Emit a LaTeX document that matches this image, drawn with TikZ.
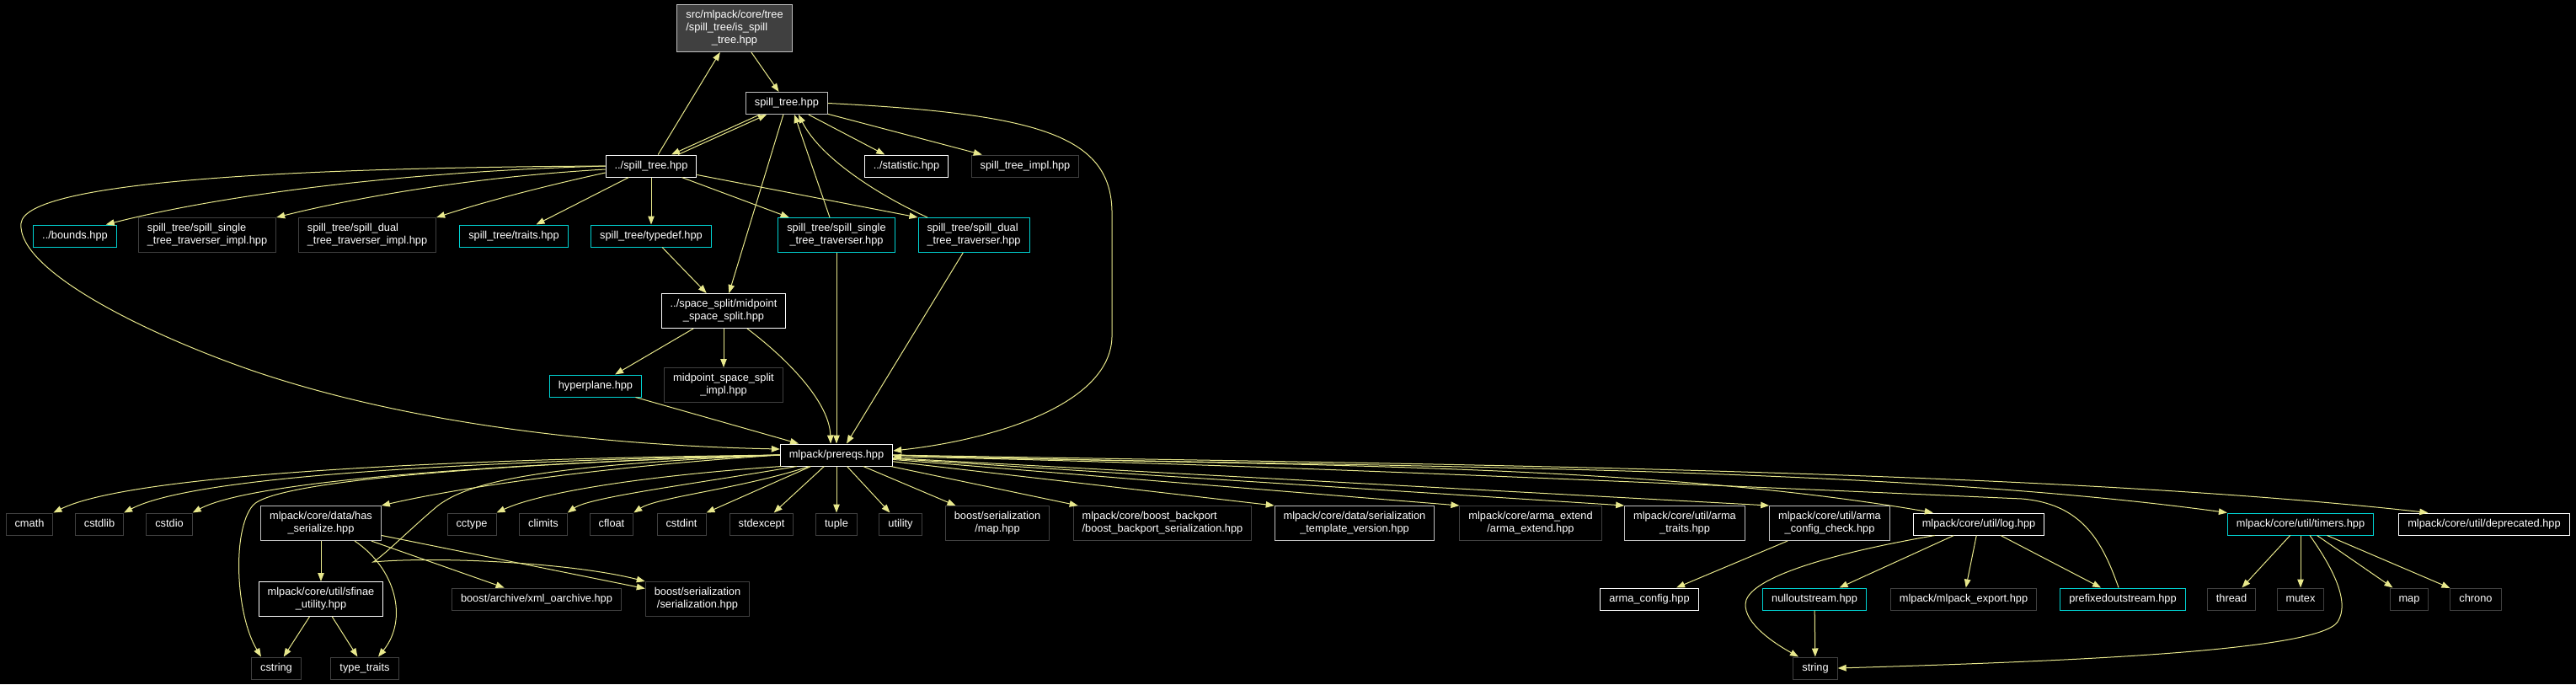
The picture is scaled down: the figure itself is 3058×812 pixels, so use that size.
\documentclass[tikz,border=0pt]{standalone}
\usepackage{fontspec}
\setmainfont{Liberation Sans}
\usetikzlibrary{arrows.meta}

\definecolor{edgeyellow}{RGB}{232,232,140}
\definecolor{extgray}{RGB}{64,64,64}
\definecolor{docgray}{RGB}{191,191,191}
\definecolor{linkcyan}{RGB}{0,210,210}
\definecolor{rootfill}{RGB}{64,64,64}

% all lines but the last left, last line centred
\newcommand{\hdrlines}[2]{\begin{tabular}{@{}l@{}}#1\\\multicolumn{1}{@{}c@{}}{#2}\end{tabular}}

\begin{document}
\begin{tikzpicture}[
      x=1pt, y=1pt,
      hdr/.style={rectangle, draw, line width=1pt, fill=black, text=white, inner xsep=10.5pt, inner ysep=5.5pt, minimum height=26pt, font=\fontsize{12.8}{15}\selectfont, execute at begin node=\strut},
      dochdr/.style={hdr, draw=white},
      grayhdr/.style={hdr, draw=docgray},
      exthdr/.style={hdr, draw=extgray},
      linkhdr/.style={hdr, draw=linkcyan},
      roothdr/.style={hdr, draw=docgray, fill=rootfill},
      incl/.style={-{Triangle[length=10pt, width=7.5pt]}, line width=1pt, edgeyellow}
    ]

    \fill[black] (0,0) rectangle (3058,-812);

    % upper part
    \node[roothdr] (istree)     at (872,-33.5) {\hdrlines{src/mlpack/core/tree\\/spill\_tree/is\_spill}{\_tree.hpp}};
    \node[grayhdr] (spilltree)  at (934,-122.5) {spill\_tree.hpp};
    \node[dochdr]  (lspill)     at (773,-197) {../spill\_tree.hpp};
    \node[dochdr]  (statistic)  at (1076,-197) {../statistic.hpp};
    \node[exthdr]  (implhpp)    at (1217,-197) {spill\_tree\_impl.hpp};

    \node[linkhdr] (bounds)     at (89,-280) {../bounds.hpp};
    \node[exthdr]  (singleimpl) at (246,-279) {\hdrlines{spill\_tree/spill\_single}{\_tree\_traverser\_impl.hpp}};
    \node[exthdr]  (dualimpl)   at (436,-279) {\hdrlines{spill\_tree/spill\_dual}{\_tree\_traverser\_impl.hpp}};
    \node[linkhdr] (traits)     at (610,-280) {spill\_tree/traits.hpp};
    \node[linkhdr] (typedef)    at (773,-280) {spill\_tree/typedef.hpp};
    \node[linkhdr] (singletrav) at (993,-279) {\hdrlines{spill\_tree/spill\_single}{\_tree\_traverser.hpp}};
    \node[linkhdr] (dualtrav)   at (1156,-279) {\hdrlines{spill\_tree/spill\_dual}{\_tree\_traverser.hpp}};

    \node[dochdr]  (midpoint)   at (859,-369) {\hdrlines{../space\_split/midpoint}{\_space\_split.hpp}};
    \node[linkhdr] (hyperplane) at (707,-458) {hyperplane.hpp};
    \node[exthdr]  (midimpl)    at (859,-457) {\hdrlines{midpoint\_space\_split}{\_impl.hpp}};

    \node[dochdr]  (prereqs)    at (993,-540) {mlpack/prereqs.hpp};

    % row below prereqs
    \node[exthdr]  (cmath)      at (35,-622) {cmath};
    \node[exthdr]  (cstdlib)    at (118,-622) {cstdlib};
    \node[exthdr]  (cstdio)     at (201,-622) {cstdio};
    \node[grayhdr] (hasser)     at (381,-621) {\hdrlines{mlpack/core/data/has}{\_serialize.hpp}};
    \node[exthdr]  (cctype)     at (560,-622) {cctype};
    \node[exthdr]  (climits)    at (645,-622) {climits};
    \node[exthdr]  (cfloat)     at (726,-622) {cfloat};
    \node[exthdr]  (cstdint)    at (809,-622) {cstdint};
    \node[exthdr]  (stdexcept)  at (904,-622) {stdexcept};
    \node[exthdr]  (tuple)      at (993,-622) {tuple};
    \node[exthdr]  (utility)    at (1069,-622) {utility};
    \node[exthdr]  (sermap)     at (1184,-621) {\hdrlines{boost/serialization}{/map.hpp}};
    \node[exthdr]  (backport)   at (1380,-621) {\hdrlines{mlpack/core/boost\_backport}{/boost\_backport\_serialization.hpp}};
    \node[grayhdr] (tmplver)    at (1608,-621) {\hdrlines{mlpack/core/data/serialization}{\_template\_version.hpp}};
    \node[exthdr]  (armaext)    at (1817,-621) {\hdrlines{mlpack/core/arma\_extend}{/arma\_extend.hpp}};
    \node[grayhdr] (armatraits) at (2000,-621) {\hdrlines{mlpack/core/util/arma}{\_traits.hpp}};
    \node[grayhdr] (armacheck)  at (2172,-621) {\hdrlines{mlpack/core/util/arma}{\_config\_check.hpp}};
    \node[dochdr]  (log)        at (2349,-622) {mlpack/core/util/log.hpp};
    \node[linkhdr] (timers)     at (2731,-622) {mlpack/core/util/timers.hpp};
    \node[dochdr]  (deprecated) at (2949,-622) {mlpack/core/util/deprecated.hpp};

    % lower rows
    \node[dochdr]  (sfinae)     at (381,-711) {\hdrlines{mlpack/core/util/sfinae}{\_utility.hpp}};
    \node[exthdr]  (xmlarch)    at (637,-711) {boost/archive/xml\_oarchive.hpp};
    \node[exthdr]  (serial)     at (828,-711) {\hdrlines{boost/serialization}{/serialization.hpp}};
    \node[dochdr]  (armaconfig) at (1958,-711) {arma\_config.hpp};
    \node[linkhdr] (nullout)    at (2154,-711) {nulloutstream.hpp};
    \node[exthdr]  (mlexport)   at (2331,-711) {mlpack/mlpack\_export.hpp};
    \node[linkhdr] (prefixed)   at (2520,-711) {prefixedoutstream.hpp};
    \node[exthdr]  (thread)     at (2649,-711) {thread};
    \node[exthdr]  (mutex)      at (2731,-711) {mutex};
    \node[exthdr]  (stdmap)     at (2860,-711) {map};
    \node[exthdr]  (chrono)     at (2939,-711) {chrono};

    \node[exthdr]  (cstring)    at (328,-793) {cstring};
    \node[exthdr]  (typetraits) at (433,-793) {type\_traits};
    \node[exthdr]  (string)     at (2155,-793) {string};

    % spill tree headers
    \draw[incl] (istree) -- (spilltree);
    \draw[incl] (lspill) -- (istree);
    \draw[incl] ([xshift=-32pt]spilltree.south) -- ([xshift=24pt]lspill.north);
    \draw[incl] ([xshift=32pt]lspill.north) -- ([xshift=-24pt]spilltree.south);
    \draw[incl] (spilltree) -- (statistic);
    \draw[incl] (spilltree) -- (implhpp);
    \draw[incl] (spilltree) -- (midpoint);
    \draw[incl] (spilltree.east) .. controls (1230,-135) and (1318,-160) .. (1320,-250) -- (1320,-400) .. controls (1318,-480) and (1180,-522) .. ([yshift=5pt]prereqs.east);
    \draw[incl] ([xshift=-8pt]singletrav.north) -- ([xshift=9pt]spilltree.south);
    \draw[incl] ([xshift=-55pt]dualtrav.north) .. controls (1050,-235) and (975,-190) .. ([xshift=14pt]spilltree.south);

    \draw[incl] (lspill.west) .. controls (450,-205) and (250,-235) .. ([xshift=-13pt]bounds.north east);
    \draw[incl] ([yshift=-4pt]lspill.west) .. controls (560,-210) and (420,-235) .. (singleimpl.north east);
    \draw[incl] ([yshift=-8pt]lspill.west) .. controls (650,-220) and (580,-238) .. (dualimpl.north east);
    \draw[incl] (lspill) -- (traits);
    \draw[incl] (lspill) -- (typedef);
    \draw[incl] (lspill) -- (singletrav);
    \draw[incl] (lspill) -- (dualtrav.north west);
    \draw[incl] (lspill.west) .. controls (350,-199) and (30,-215) .. (25,-265) .. controls (20,-320) and (170,-395) .. (300,-440) .. controls (520,-515) and (780,-530) .. ([yshift=7pt]prereqs.west);

    \draw[incl] (typedef) -- (midpoint);
    \draw[incl] (midpoint) -- (hyperplane);
    \draw[incl] (midpoint) -- (midimpl);
    \draw[incl] ([xshift=28pt]midpoint.south) .. controls (940,-430) and (985,-480) .. ([xshift=-7pt]prereqs.north);
    \draw[incl] (hyperplane) -- ([xshift=-45pt]prereqs.north);
    \draw[incl] (singletrav) -- (prereqs);
    \draw[incl] (dualtrav) -- ([xshift=12pt]prereqs.north);

    % prereqs, left side
    \draw[incl] (prereqs.west) .. controls (500,-545) and (150,-565) .. (cmath.north east);
    \draw[incl] (prereqs.west) .. controls (550,-548) and (230,-565) .. (cstdlib.north east);
    \draw[incl] (prereqs.west) .. controls (600,-550) and (300,-570) .. (cstdio.north east);
    \draw[incl] (prereqs.west) .. controls (700,-555) and (540,-580) .. (hasser.north east);
    \draw[incl] ([xshift=2pt]prereqs.south west) .. controls (760,-565) and (640,-585) .. (cctype.north east);
    \draw[incl] ([xshift=20pt]prereqs.south west) .. controls (820,-575) and (700,-590) .. (climits.north east);
    \draw[incl] ([xshift=35pt]prereqs.south west) .. controls (880,-580) and (780,-590) .. (cfloat.north east);
    \draw[incl] (prereqs) -- (cstdint.north east);
    \draw[incl] (prereqs) -- (stdexcept);
    \draw[incl] (prereqs) -- (tuple);
    \draw[incl] (prereqs) -- (utility);
    \draw[incl] (prereqs.west) .. controls (600,-550) and (325,-570) .. (300,-600) .. controls (275,-630) and (280,-730) .. ([xshift=-18pt]cstring.north);
    \draw[incl] (prereqs.west) .. controls (650,-552) and (560,-570) .. (520,-600) .. controls (490,-625) and (455,-660) .. (443,-667) .. controls (520,-660) and (680,-668) .. (serial.north west);

    % prereqs, right side
    \draw[incl] (prereqs) -- (sermap);
    \draw[incl] (prereqs) -- (backport);
    \draw[incl] (prereqs) -- (tmplver.north west);
    \draw[incl] (prereqs) -- (armaext.north west);
    \draw[incl] (prereqs) -- (armatraits.north west);
    \draw[incl] (prereqs) -- (armacheck.north west);
    \draw[incl] (prereqs.east) .. controls (1431,-553) and (1929,-545) .. ([xshift=24pt]log.north west);
    \draw[incl] (prereqs.east) .. controls (1530,-555) and (2200,-548) .. (timers.north west);
    \draw[incl] (prereqs.east) .. controls (1600,-550) and (2400,-555) .. ([xshift=35pt]deprecated.north west);
    \draw[incl] ([xshift=-5pt]prefixed.north) .. controls (2495,-640) and (2470,-598) .. (2400,-592) .. controls (1900,-570) and (1400,-548) .. ([yshift=-2pt]prereqs.east);

    % lower headers
    \draw[incl] (hasser) -- (sfinae);
    \draw[incl] (hasser) -- (xmlarch);
    \draw[incl] (hasser) -- (serial);
    \draw[incl] ([xshift=40pt]hasser.south) .. controls (470,-675) and (485,-735) .. ([xshift=16pt]typetraits.north);
    \draw[incl] (sfinae) -- (cstring);
    \draw[incl] (sfinae) -- (typetraits);
    \draw[incl] (armacheck) -- (armaconfig);

    \draw[incl] (log) -- (nullout);
    \draw[incl] (log) -- (mlexport);
    \draw[incl] (log) -- (prefixed);
    \draw[incl] ([xshift=-52pt]log.south) .. controls (2200,-652) and (2085,-680) .. (2073,-712) .. controls (2066,-735) and (2100,-760) .. ([xshift=-20pt]string.north);
    \draw[incl] (nullout) -- (string);

    \draw[incl] (timers) -- (thread);
    \draw[incl] (timers) -- (mutex);
    \draw[incl] (timers) -- (stdmap);
    \draw[incl] (timers) -- (chrono);
    \draw[incl] ([xshift=11pt]timers.south) .. controls (2770,-675) and (2790,-715) .. (2775,-738) .. controls (2752,-773) and (2450,-785) .. (string.east);

  \end{tikzpicture}
\end{document}
